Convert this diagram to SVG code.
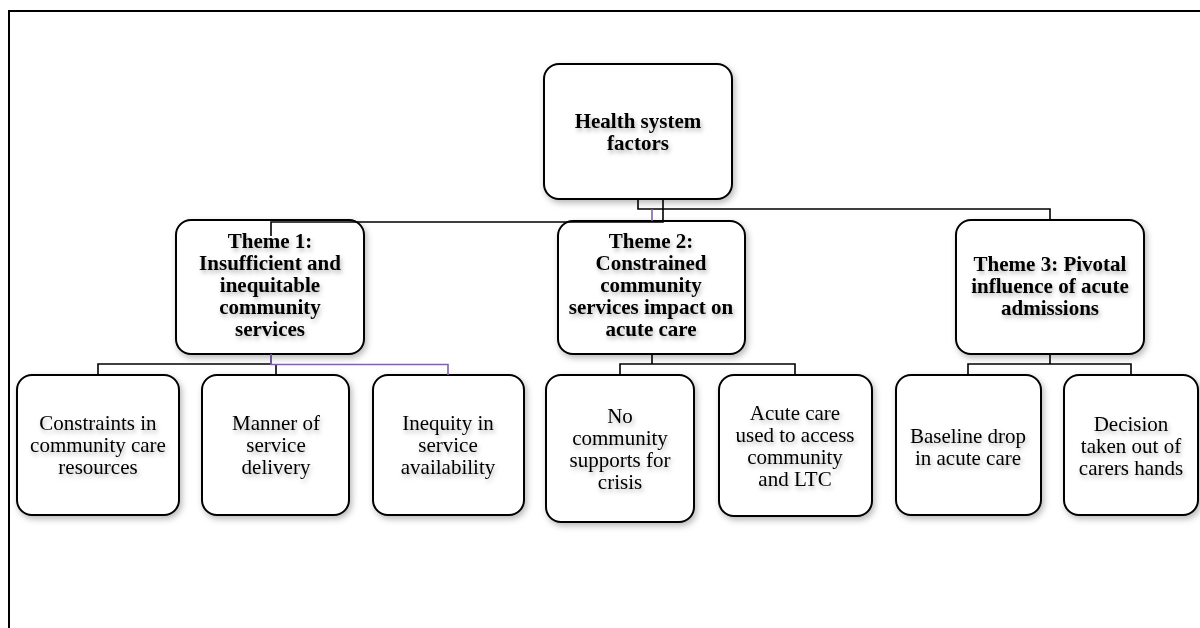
<svg xmlns="http://www.w3.org/2000/svg" width="1200" height="628" viewBox="0 0 1200 628">
<defs>
<filter id="bs" x="-10%" y="-10%" width="130%" height="130%"><feDropShadow dx="2" dy="3" stdDeviation="3" flood-color="#000" flood-opacity="0.28"/></filter>
<filter id="ts" x="-10%" y="-20%" width="130%" height="160%"><feDropShadow dx="1.5" dy="3" stdDeviation="2.2" flood-color="#000" flood-opacity="0.28"/></filter>
</defs>
<style>
.box{fill:#fff;stroke:#000;stroke-width:2;filter:url(#bs)}
.t{font-family:"Liberation Serif","Times New Roman",serif;font-size:21px;fill:#000;text-anchor:middle;filter:url(#ts)}
.b{font-weight:bold}
.c{fill:none;stroke:#000;stroke-width:1.6}
.p{fill:none;stroke:#7F63A6;stroke-width:1.6}
.f{fill:none;stroke:#000;stroke-width:2}
</style>
<rect width="1200" height="628" fill="#fff"/>
<g id="frame"><path class="f" d="M9,628 V11 H1200"/></g>
<g id="root"><rect class="box" x="544" y="64" width="188" height="135" rx="15"/>
<text class="t b" x="638" y="128">Health system</text><text class="t b" x="638" y="150">factors</text></g>
<g id="theme1"><rect class="box" x="176" y="220" width="188" height="134" rx="15"/>
<text class="t b" x="270" y="248">Theme 1:</text><text class="t b" x="270" y="270">Insufficient and</text><text class="t b" x="270" y="292">inequitable</text><text class="t b" x="270" y="314">community</text><text class="t b" x="270" y="336">services</text></g>
<g id="theme2"><rect class="box" x="558" y="221" width="187" height="133" rx="15"/>
<text class="t b" x="651" y="248">Theme 2:</text><text class="t b" x="651" y="270">Constrained</text><text class="t b" x="651" y="292">community</text><text class="t b" x="651" y="314">services impact on</text><text class="t b" x="651" y="336">acute care</text></g>
<g id="theme3"><rect class="box" x="956" y="220" width="188" height="134" rx="15"/>
<text class="t b" x="1050" y="271">Theme 3: Pivotal</text><text class="t b" x="1050" y="293">influence of acute</text><text class="t b" x="1050" y="315">admissions</text></g>
<g id="c1"><rect class="box" x="17" y="375" width="162" height="140" rx="15"/>
<text class="t" x="98" y="430">Constraints in</text><text class="t" x="98" y="452">community care</text><text class="t" x="98" y="474">resources</text></g>
<g id="c2"><rect class="box" x="202" y="375" width="147" height="140" rx="15"/>
<text class="t" x="276" y="430">Manner of</text><text class="t" x="276" y="452">service</text><text class="t" x="276" y="474">delivery</text></g>
<g id="c3"><rect class="box" x="373" y="375" width="151" height="140" rx="15"/>
<text class="t" x="448" y="430">Inequity in</text><text class="t" x="448" y="452">service</text><text class="t" x="448" y="474">availability</text></g>
<g id="c4"><rect class="box" x="546" y="375" width="148" height="147" rx="15"/>
<text class="t" x="620" y="423">No</text><text class="t" x="620" y="445">community</text><text class="t" x="620" y="467">supports for</text><text class="t" x="620" y="489">crisis</text></g>
<g id="c5"><rect class="box" x="719" y="375" width="153" height="141" rx="15"/>
<text class="t" x="795" y="420">Acute care</text><text class="t" x="795" y="442">used to access</text><text class="t" x="795" y="464">community</text><text class="t" x="795" y="486">and LTC</text></g>
<g id="c6"><rect class="box" x="896" y="375" width="145" height="140" rx="15"/>
<text class="t" x="968" y="443">Baseline drop</text><text class="t" x="968" y="465">in acute care</text></g>
<g id="c7"><rect class="box" x="1064" y="375" width="134" height="140" rx="15"/>
<text class="t" x="1131" y="431">Decision</text><text class="t" x="1131" y="453">taken out of</text><text class="t" x="1131" y="475">carers hands</text></g>
<g id="connectors">
<path class="c" d="M638,199 V209 H1050 V220"/>
<path class="c" d="M663,199 V222 H271 V236"/>
<path class="p" d="M652,209 V221"/>
<path class="c" d="M271,354 V364 H98 V375"/>
<path class="c" d="M276,364 V375"/>
<path class="p" d="M271,354 V364.5 H448 V375"/>
<path class="c" d="M652,354 V364 H620 V375 M652,364 H795 V375"/>
<path class="c" d="M1050,354 V364 H968 V375 M1050,364 H1131 V375"/>
</g>
</svg>
